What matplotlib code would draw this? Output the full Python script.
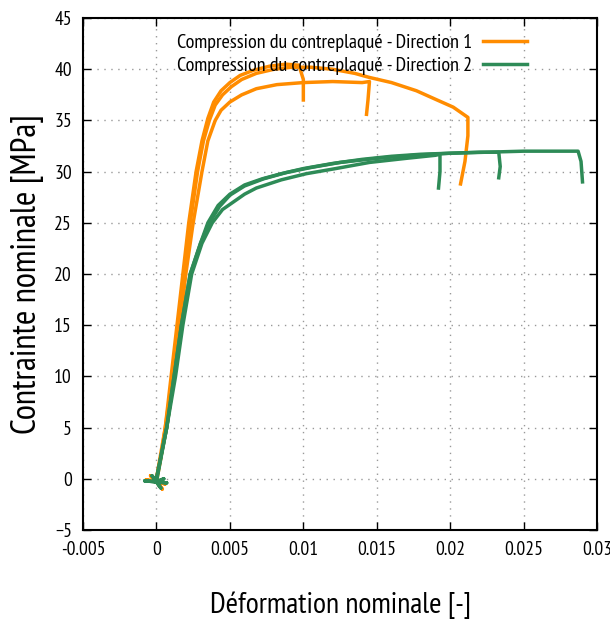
import matplotlib
matplotlib.use('Agg')
import matplotlib.pyplot as plt

plt.rcParams['font.family'] = ['PT Sans Narrow', 'Liberation Sans Narrow', 'Roboto Condensed', 'DejaVu Sans']

# Direction 1 - trois essais (déformation [-], contrainte [MPa])
d1_e1 = [0.0, 0.0006, 0.0, -0.0007, 0.0, 0.0004, 0.0, -0.0004, 0.0,
         0.0003, 0.0006, 0.0011, 0.0015, 0.00185, 0.0023, 0.0028, 0.0032, 0.0036, 0.0040,
         0.0045, 0.0051, 0.0058, 0.0068, 0.0080, 0.0092, 0.0105, 0.0120, 0.0135, 0.0145,
         0.0160, 0.0177, 0.0191, 0.0202, 0.0212, 0.0212, 0.0210, 0.0207]
d1_s1 = [-0.3, -0.5, -0.3, -0.1, -0.3, -1.0, -0.3, 0.3, -0.3,
         2.0, 5.0, 10.0, 15.0, 20.0, 25.0, 30.0, 33.0, 35.0, 36.5,
         37.5, 38.3, 39.0, 39.6, 40.0, 40.2, 40.2, 40.0, 39.6, 39.2,
         38.7, 37.9, 37.0, 36.3, 35.3, 33.5, 31.0, 28.8]
d1_e2 = [0.0, 0.0007, 0.0012, 0.0016, 0.0020, 0.0025, 0.0031, 0.0035, 0.0040, 0.0044,
         0.0050, 0.0058, 0.0068, 0.0082, 0.0100, 0.0120, 0.0140, 0.0145, 0.0144, 0.0143]
d1_s2 = [0.0, 5.0, 10.0, 15.0, 20.0, 25.0, 30.0, 33.0, 35.0, 36.0,
         36.8, 37.5, 38.1, 38.5, 38.7, 38.8, 38.7, 38.8, 37.0, 35.6]
d1_e3 = [0.0, 0.0006, 0.0010, 0.0014, 0.0018, 0.0022, 0.0027, 0.0031, 0.0035, 0.0039,
         0.0044, 0.0050, 0.0057, 0.0066, 0.0077, 0.0088, 0.0097, 0.0100, 0.0100]
d1_s3 = [0.0, 5.0, 10.0, 15.0, 20.0, 25.0, 30.0, 33.0, 35.2, 36.8,
         37.9, 38.7, 39.4, 39.9, 40.3, 40.5, 40.4, 39.0, 37.0]

# Direction 2 - trois essais
d2_e1 = [0.0, 0.0007, 0.0, -0.0008, 0.0, 0.0003, 0.0, -0.0003, 0.0, 0.0005, 0.0,
         0.0007, 0.0012, 0.0017, 0.0023, 0.0030, 0.0035, 0.0042, 0.0050, 0.0060,
         0.0072, 0.0085, 0.0100, 0.0120, 0.0140, 0.0160, 0.0180, 0.0200, 0.0225,
         0.0250, 0.0275, 0.0287, 0.0289, 0.0290]
d2_s1 = [-0.3, -0.4, -0.3, -0.2, -0.3, -0.9, -0.3, 0.3, -0.3, 0.0, -0.3,
         5.0, 10.0, 15.0, 20.0, 23.0, 25.0, 26.7, 27.8, 28.7,
         29.3, 29.8, 30.3, 30.8, 31.2, 31.5, 31.7, 31.8, 31.9,
         32.0, 32.0, 32.0, 31.0, 29.0]
d2_e2 = [0.0, 0.0007, 0.0013, 0.0018, 0.0024, 0.0031, 0.0038, 0.0045, 0.0052,
         0.0060, 0.0068, 0.0085, 0.0102, 0.0122, 0.0145, 0.0170, 0.0190, 0.0193, 0.0193, 0.0192]
d2_s2 = [0.0, 5.0, 10.0, 15.0, 20.0, 23.0, 25.0, 26.3, 27.0,
         27.8, 28.4, 29.2, 29.8, 30.3, 30.9, 31.3, 31.6, 31.7, 30.0, 28.4]
d2_e3 = [0.0, 0.0007, 0.0012, 0.0017, 0.0023, 0.0030, 0.0036, 0.0043, 0.0050,
         0.0060, 0.0073, 0.0088, 0.0105, 0.0125, 0.0150, 0.0175, 0.0200, 0.0220, 0.0233,
         0.0234, 0.0233]
d2_s3 = [0.0, 5.0, 10.0, 15.0, 20.0, 23.0, 25.0, 26.6, 27.7,
         28.6, 29.3, 29.9, 30.4, 30.9, 31.3, 31.6, 31.8, 31.9, 31.9,
         30.5, 29.4]

label1 = 'Compression du contreplaqué - Direction 1'
label2 = 'Compression du contreplaqué - Direction 2'
orange = '#ff8c00'
vert = '#2e8b57'

fig = plt.figure(figsize=(6.1, 6.19), dpi=100)
ax = fig.add_axes([0.136, 0.1438, 0.843, 0.827])

ax.plot(d1_e1, d1_s1, color=orange, lw=2.5, label=label1)
ax.plot(d1_e2, d1_s2, color=orange, lw=2.5)
ax.plot(d1_e3, d1_s3, color=orange, lw=2.5)
ax.plot(d2_e1, d2_s1, color=vert, lw=2.5, label=label2)
ax.plot(d2_e2, d2_s2, color=vert, lw=2.5)
ax.plot(d2_e3, d2_s3, color=vert, lw=2.5)

ax.set_xlim(-0.005, 0.03)
ax.set_ylim(-5, 45)
ax.set_xticks([-0.005, 0, 0.005, 0.01, 0.015, 0.02, 0.025, 0.03])
ax.set_xticklabels(['-0.005', '0', '0.005', '0.01', '0.015', '0.02', '0.025', '0.03'])
ax.set_yticks(range(-5, 46, 5))

ax.grid(True, color='#999999', linestyle=(0, (1, 4)), lw=1)
ax.tick_params(direction='in', length=6, width=1, top=True, right=True, labelsize=14, pad=8)
for s in ax.spines.values():
    s.set_linewidth(1.5)

ax.set_xlabel('Déformation nominale [-]', fontsize=21.5, labelpad=23)
ax.set_ylabel('Contrainte nominale [MPa]', fontsize=25, labelpad=7)

ax.legend(loc='upper right', bbox_to_anchor=(0.879, 0.985), frameon=False, markerfirst=False,
          fontsize=14.5, handlelength=2.2, labelspacing=0.25, borderaxespad=0, handletextpad=0.5)

fig.savefig('out.png', dpi=100)
